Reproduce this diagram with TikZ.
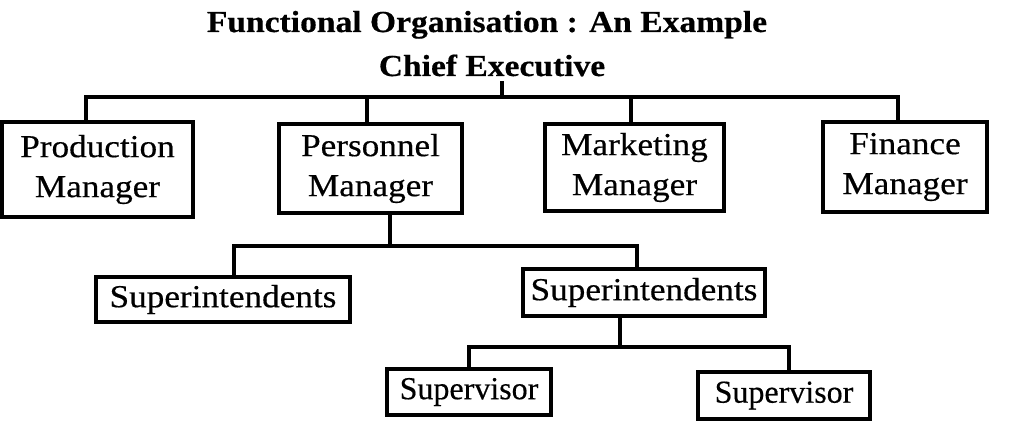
\documentclass[tikz,border=0pt]{standalone}
\usepackage{fontspec}
\setmainfont{Liberation Serif}[FakeStretch=1.10,FakeBold=0.4]
\newfontfamily\svfont{Liberation Serif}[FakeStretch=1.0,FakeBold=0.4]
\begin{document}
\begin{tikzpicture}[x=1pt,y=-1pt,
  line width=3.4pt,
  boxnode/.style={draw,line width=3.4pt,align=center,inner sep=0pt,
    font=\fontsize{32}{40}\selectfont},
  svnode/.style={boxnode,font=\svfont\fontsize{32}{40}\selectfont},
  titlenode/.style={anchor=base,inner sep=3pt,font=\bfseries\fontsize{30.5}{36}\selectfont}]
\useasboundingbox[fill=white] (0,0) rectangle (1024,430);
% titles
\node[titlenode] (title) at (487,32) {Functional Organisation : An Example};
\node[titlenode] (chief) at (492,76) {Chief Executive};
% managers
\node[boxnode,minimum width=191pt,minimum height=95pt] (prod) at (97.5,169.5) {Production\\Manager};
\node[boxnode,minimum width=183pt,minimum height=89pt] (pers) at (370.5,168.5) {Personnel\\Manager};
\node[boxnode,minimum width=179pt,minimum height=87pt] (mark) at (634.5,167.5) {Marketing\\Manager};
\node[boxnode,minimum width=164pt,minimum height=90pt] (fin) at (905,167) {Finance\\Manager};
% superintendents
\node[boxnode,minimum width=254pt,minimum height=45pt] (supA) at (223,299.5) {Superintendents};
\node[boxnode,minimum width=242pt,minimum height=47pt] (supB) at (644,292.5) {Superintendents};
% supervisors
\node[svnode,minimum width=164pt,minimum height=46pt] (svA) at (469,392) {Supervisor};
\node[svnode,minimum width=172pt,minimum height=47pt] (svB) at (784,395.5) {Supervisor};
% top bus
\coordinate (c0) at (502,97);
\coordinate (b1) at (86,97);
\coordinate (b2) at (367,97);
\coordinate (b3) at (631,97);
\coordinate (b4) at (898,97);
\draw (c0 |- chief.south) -- (c0);
\draw (b1 |- prod.north) -- (b1) -- (b4) -- (b4 |- fin.north);
\draw (b2) -- (b2 |- pers.north);
\draw (b3) -- (b3 |- mark.north);
% personnel bus
\coordinate (p0) at (390,246);
\coordinate (pl) at (234,246);
\coordinate (pr) at (637,246);
\draw (p0 |- pers.south) -- (p0);
\draw (pl |- supA.north) -- (pl) -- (pr) -- (pr |- supB.north);
% superintendent bus
\coordinate (s0) at (620,347);
\coordinate (sl) at (469,347);
\coordinate (sr) at (789,347);
\draw (s0 |- supB.south) -- (s0);
\draw (sl |- svA.north) -- (sl) -- (sr) -- (sr |- svB.north);
\end{tikzpicture}
\end{document}
